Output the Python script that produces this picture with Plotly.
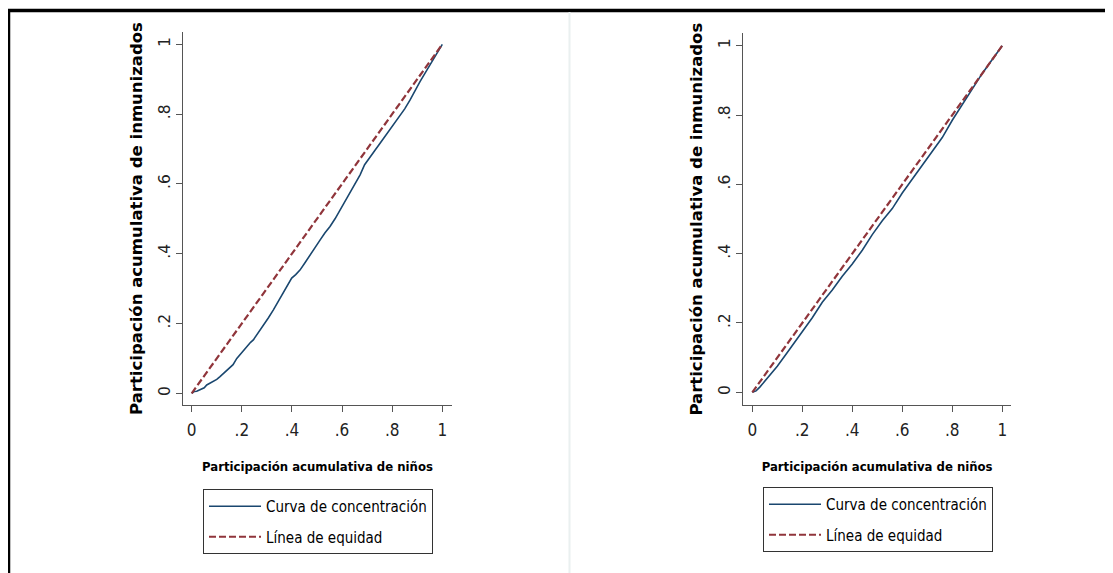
import plotly.graph_objects as go

# ---------------- data ----------------
tick_vals = [0, 0.2, 0.4, 0.6, 0.8, 1]
tick_text = ["0", ".2", ".4", ".6", ".8", "1"]

x_left = [0.0, 0.01, 0.02, 0.033, 0.05, 0.06, 0.073, 0.09, 0.1, 0.113,
          0.13, 0.153, 0.165, 0.18, 0.2, 0.219, 0.235, 0.246, 0.265, 0.286,
          0.305, 0.326, 0.345, 0.366, 0.385, 0.399, 0.415, 0.432, 0.452, 0.472,
          0.492, 0.512, 0.532, 0.552, 0.572, 0.592, 0.612, 0.632, 0.652, 0.672,
          0.69, 0.711, 0.73, 0.751, 0.77, 0.791, 0.81, 0.831, 0.85, 0.871,
          0.89, 0.911, 0.93, 0.951, 0.975, 1.0]
y_left = [0.0, 0.005, 0.006, 0.01, 0.016, 0.024, 0.029, 0.036, 0.04, 0.048,
          0.06, 0.076, 0.082, 0.1, 0.117, 0.134, 0.146, 0.153, 0.172, 0.196,
          0.215, 0.239, 0.262, 0.287, 0.31, 0.33, 0.34, 0.353, 0.374, 0.396,
          0.42, 0.439, 0.46, 0.478, 0.5, 0.525, 0.548, 0.573, 0.6, 0.626,
          0.655, 0.678, 0.695, 0.716, 0.735, 0.755, 0.772, 0.793, 0.815, 0.84,
          0.866, 0.893, 0.916, 0.941, 0.968, 1.0]

x_right = [0.0, 0.015, 0.03, 0.06, 0.1, 0.14, 0.18, 0.2, 0.24, 0.28, 0.32, 0.36,
           0.4, 0.44, 0.48, 0.52, 0.56, 0.6, 0.64, 0.68, 0.72, 0.76, 0.8, 0.84,
           0.88, 0.92, 0.96, 1.0]
y_right = [0.0, 0.004, 0.015, 0.04, 0.075, 0.115, 0.155, 0.172, 0.215, 0.26, 0.295, 0.335,
           0.37, 0.41, 0.455, 0.495, 0.53, 0.575, 0.615, 0.655, 0.695, 0.735, 0.785, 0.83,
           0.875, 0.92, 0.96, 1.0]

x_equity = [0, 1]
y_equity = [0, 1]

series_names = ["Curva de concentración", "Línea de equidad"]
x_title = "Participación acumulativa de niños"
y_title = "Participación acumulativa de inmunizados"

# ---------------- styles ----------------
# the page has an 8px body margin, so the figure is 8px smaller and all
# target pixel positions are shifted by 8px
OFF = 8
W, H = 1113 - OFF, 573 - OFF
BLUE = "#1a476f"
RED = "#90353b"
NARROW = "Liberation Sans Narrow, DejaVu Sans Condensed, sans-serif"
WIDE = "DejaVu Sans, Verdana, sans-serif"


def px(v):
    return (v - OFF) / W


def py(v):
    return 1 - (v - OFF) / H


fig = go.Figure()

panels = [
    dict(x=x_left, y=y_left, xa="x", ya="y", legend="legend"),
    dict(x=x_right, y=y_right, xa="x2", ya="y2", legend="legend2"),
]
for p in panels:
    fig.add_trace(go.Scatter(
        x=p["x"], y=p["y"], mode="lines", name=series_names[0],
        line=dict(color=BLUE, width=1.6), xaxis=p["xa"], yaxis=p["ya"],
        legend=p["legend"], legendgroup="a", showlegend=True))
    fig.add_trace(go.Scatter(
        x=x_equity, y=y_equity, mode="lines", name=series_names[1],
        line=dict(color=RED, width=2.2, dash="7px,3px"), xaxis=p["xa"], yaxis=p["ya"],
        legend=p["legend"], legendgroup="b", showlegend=True))

xaxis_common = dict(
    tickvals=tick_vals, ticktext=tick_text, showgrid=False, zeroline=False,
    showline=True, linecolor="#555555", linewidth=1, ticks="outside", ticklen=6,
    tickcolor="#555555", tickfont=dict(family=NARROW, size=17, color="#222222"),
    ticklabelstandoff=4,
    title=dict(text="<b>" + x_title + "</b>", font=dict(family=NARROW, size=13, color="black"), standoff=22),
    automargin=False, fixedrange=True,
)
yaxis_common = dict(
    tickvals=tick_vals, ticktext=tick_text, showgrid=False, zeroline=False,
    showline=True, linecolor="#555555", linewidth=1, ticks="outside", ticklen=6,
    tickcolor="#555555", tickangle=-90,
    tickfont=dict(family=WIDE, size=15.5, color="#222222"),
    title=dict(text="<b>" + y_title + "</b>", font=dict(family=WIDE, size=16.5, color="black"), standoff=9),
    automargin=False, fixedrange=True,
)

legend_common = dict(
    xanchor="left", yanchor="top", bordercolor="#333333", borderwidth=1, bgcolor="white",
    font=dict(family=NARROW, size=15, color="black"),
    traceorder="grouped", tracegroupgap=8, itemwidth=52,
)

fig.update_layout(
    width=W, height=H, margin=dict(l=0, r=0, t=0, b=0),
    paper_bgcolor="white", plot_bgcolor="white",
    xaxis=dict(xaxis_common, domain=[px(183.3), px(451.7)], range=[-0.0335, 1.0375], anchor="y"),
    yaxis=dict(yaxis_common, domain=[py(405), py(32)], range=[-0.0335, 1.0352], anchor="x"),
    xaxis2=dict(xaxis_common, domain=[px(743.3), px(1011)], range=[-0.036, 1.035], anchor="y2"),
    yaxis2=dict(yaxis_common, domain=[py(405), py(33.3)], range=[-0.0366, 1.0358], anchor="x2"),
    legend=dict(legend_common, x=px(203), y=py(489)),
    legend2=dict(legend_common, x=px(763), y=py(487)),
    shapes=[
        dict(type="line", xref="paper", yref="paper", x0=px(7), x1=1, y0=py(10.5), y1=py(10.5),
             line=dict(color="black", width=3.5)),
        dict(type="line", xref="paper", yref="paper", x0=px(8.5), x1=px(8.5), y0=py(9), y1=0,
             line=dict(color="black", width=3.5)),
        dict(type="line", xref="paper", yref="paper", x0=px(569.5), x1=px(569.5), y0=py(12), y1=0,
             line=dict(color="#eaf0f0", width=2)),
    ],
)

fig.write_html("out.html")
